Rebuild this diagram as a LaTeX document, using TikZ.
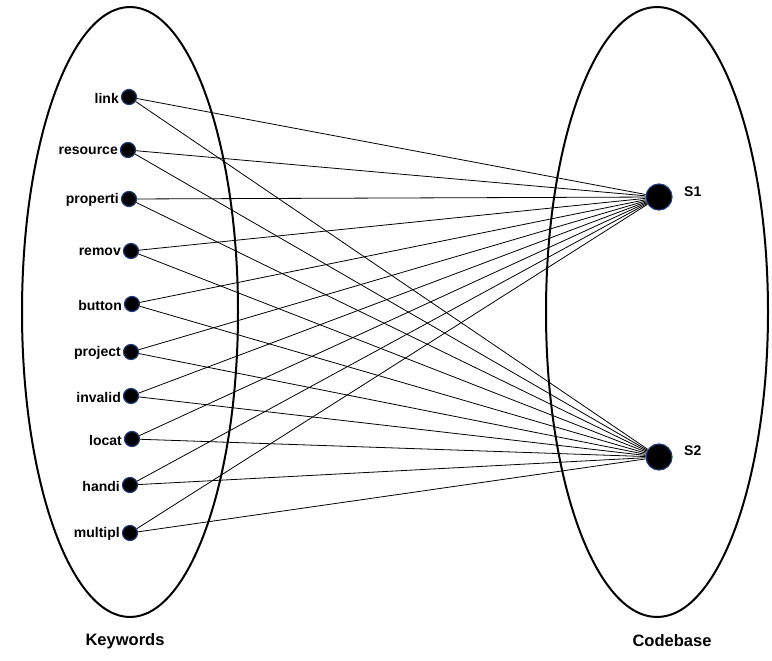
\documentclass[tikz,border=0pt]{standalone}
\usepackage{fontspec}
\setmainfont{Liberation Sans}
\begin{document}
\begin{tikzpicture}[x=1pt,y=-1pt,
  kw/.style={circle,fill=black,draw=dotblue,line width=1.2pt,minimum size=15pt,inner sep=0pt},
  src/.style={circle,fill=black,draw=dotblue,line width=1.2pt,minimum size=26pt,inner sep=0pt},
  lab/.style={font=\bfseries\fontsize{14}{16}\selectfont,inner sep=0pt},
  big/.style={font=\bfseries\fontsize{16.5}{18}\selectfont,inner sep=0pt},
  link/.style={draw=black,line width=0.8pt},
  set/.style={draw=black,line width=2pt}]
\definecolor{dotblue}{HTML}{1F3A7A}
\useasboundingbox (0,0) rectangle (772,661);
\draw[set] (130,312) ellipse [x radius=108, y radius=305];
\draw[set] (657,312) ellipse [x radius=111, y radius=305];
\node[big] (kwl) at (125,641) {Keywords};
\node[big] (cbl) at (672,641) {Codebase};
\node[src] (s1) at (659,197) {};
\node[src] (s2) at (659,457) {};
\node[lab,anchor=west] (s1l) at (684,192) {S1};
\node[lab,anchor=west] (s2l) at (684,451) {S2};
\foreach \n/\t/\xx/\yy in {k1/link/129/97,k2/resource/128/150,k3/properti/129/199,k4/remov/131/251,k5/button/132/304,k6/project/131/352,k7/invalid/131/396,k8/locat/132/439,k9/handi/130/485,k10/multipl/130/533}{
  \node[kw] (\n) at (\xx,\yy) {};
  \node[lab,anchor=east] (\n l) at ([xshift=-10pt,yshift=-1pt]\n.center) {\t};
}
\foreach \n in {k1,k2,k3,k4,k5,k6,k7,k8,k9,k10}{
  \draw[link] (\n) -- (s1);
  \draw[link] (\n) -- (s2);
}
\end{tikzpicture}
\end{document}
